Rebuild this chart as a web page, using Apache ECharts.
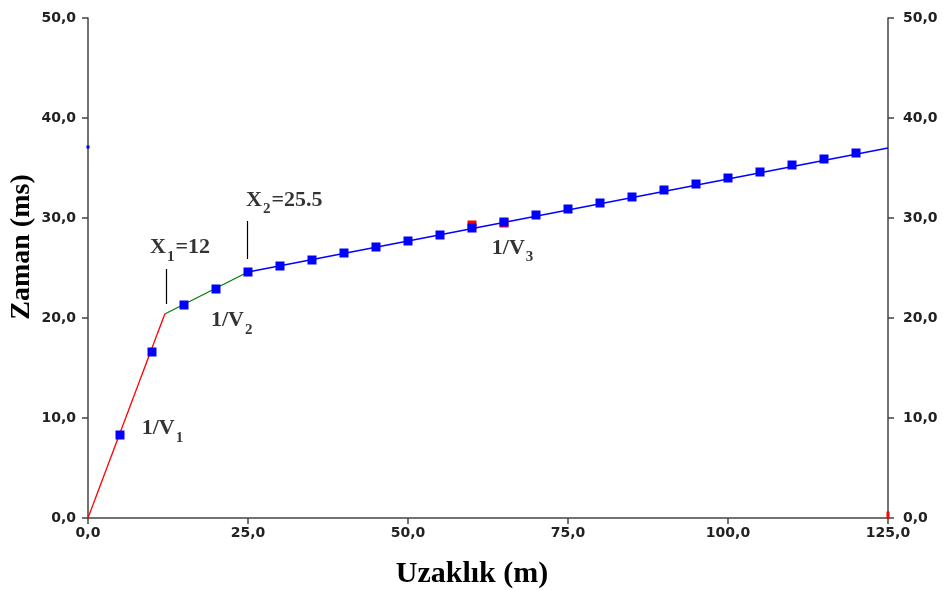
<!DOCTYPE html>
<html><head><meta charset="utf-8">
<script src="https://cdn.jsdelivr.net/npm/echarts@6/dist/echarts.min.js"></script>
<style>html,body{margin:0;padding:0;background:#fff}#c{width:943px;height:590px}</style>
</head><body><div id="c"></div>
<script>
const distances = [5,10,15,20,25,30,35,40,45,50,55,60,65,70,75,80,85,90,95,100,105,110,115,120];
const times = [8.3,16.6,21.3,22.9,24.6,25.2,25.8,26.5,27.1,27.7,28.3,29.0,29.6,30.3,30.9,31.5,32.1,32.8,33.4,34.0,34.6,35.3,35.9,36.5];
const redPointsX = [60,65];
const redPointsY = [29.3,29.5];
const line1X = [0,12], line1Y = [0,20.4];
const line2X = [12,25], line2Y = [20.4,24.6];
const line3X = [25,125], line3Y = [24.6,37.0];
const strayBlue = [[0,37.1]];
const strayRed = [[125,0.3]];

const zip = (a,b)=>a.map((v,i)=>[v,b[i]]);
const fmt = v => v.toFixed(1).replace('.', ',');

const sub = {fontFamily:'Liberation Serif',fontWeight:'bold',fontSize:15,color:'#000',verticalAlign:'bottom',padding:[0,1,-6,1]};
const base = {fontFamily:'Liberation Serif',fontWeight:'bold',fontSize:22,color:'#000'};
const annotations = [
  {pos:[9.7,27.05], text:'X{s|1}=12'},
  {pos:[24.7,31.8], text:'X{s|2}=25.5'},
  {pos:[8.4,8.95], text:'1/V{s|1}'},
  {pos:[19.2,19.75], text:'1/V{s|2}'},
  {pos:[63.1,27.0], text:'1/V{s|3}'}
];
const markerLines = [
  [[12.3,21.4],[12.3,24.9]],
  [[24.9,25.9],[24.9,29.7]]
];

const axisLabel = {fontFamily:'DejaVu Sans',fontWeight:'bold',fontSize:14,color:'#222',formatter:fmt};
const axisLineStyle = {color:'#444',width:1.5};
const chart = echarts.init(document.getElementById('c'));
chart.setOption({
  animation:false,
  backgroundColor:'#fff',
  grid:{left:88,right:55,top:18,bottom:72,containLabel:false,outerBoundsMode:'none'},
  xAxis:{type:'value',min:0,max:125,interval:25,
    name:'Uzaklık (m)',nameLocation:'middle',nameGap:41,nameMoveOverlap:false,
    nameTextStyle:{fontFamily:'Liberation Serif',fontWeight:'bold',fontSize:30,color:'#000',padding:[0,32,0,0]},
    axisLine:{lineStyle:axisLineStyle},
    axisTick:{length:6,lineStyle:axisLineStyle},
    axisLabel:Object.assign({margin:8},axisLabel),splitLine:{show:false}},
  yAxis:[
    {type:'value',min:0,max:50,interval:10,position:'left',
     name:'Zaman (ms)',nameLocation:'middle',nameGap:52,nameMoveOverlap:false,
     nameTextStyle:{fontFamily:'Liberation Serif',fontWeight:'bold',fontSize:28,color:'#000',padding:[0,0,0,42]},
     axisLine:{show:true,lineStyle:axisLineStyle},
     axisTick:{show:true,length:6,lineStyle:axisLineStyle},
     axisLabel:Object.assign({margin:12},axisLabel),splitLine:{show:false}},
    {type:'value',min:0,max:50,interval:10,position:'right',
     axisLine:{show:true,lineStyle:axisLineStyle},
     axisTick:{show:true,length:6,lineStyle:axisLineStyle},
     axisLabel:Object.assign({margin:15},axisLabel),splitLine:{show:false}}
  ],
  series:[
    {type:'line',data:zip(line1X,line1Y),symbol:'none',lineStyle:{color:'#ff0000',width:1.3},z:2},
    {type:'line',data:zip(line2X,line2Y),symbol:'none',lineStyle:{color:'#008000',width:1.3},z:2},
    {type:'line',data:zip(line3X,line3Y),symbol:'none',lineStyle:{color:'#0000ff',width:1.3},z:2},
    {type:'scatter',data:zip(redPointsX,redPointsY),symbol:'rect',symbolSize:9,itemStyle:{color:'#ff0000',opacity:1},z:3},
    {type:'scatter',data:zip(distances,times),symbol:'rect',symbolSize:9,itemStyle:{color:'#0000ff',opacity:1},z:4},
    {type:'scatter',data:strayBlue,symbol:'rect',symbolSize:3,itemStyle:{color:'#0000ff',opacity:1},z:6},
    {type:'scatter',data:strayRed,symbol:'rect',symbolSize:[3,7],itemStyle:{color:'#ff0000',opacity:1},z:1},
    {type:'scatter',data:annotations.map(a=>({value:a.pos,label:{formatter:a.text}})),symbolSize:0,
     label:{show:true,position:'right',distance:0,...base,rich:{s:sub}},z:5,silent:true},
    {type:'lines',coordinateSystem:'cartesian2d',data:markerLines.map(c=>({coords:c})),
     lineStyle:{color:'#000',width:1.2,opacity:1},z:5,silent:true}
  ]
});
</script></body></html>
